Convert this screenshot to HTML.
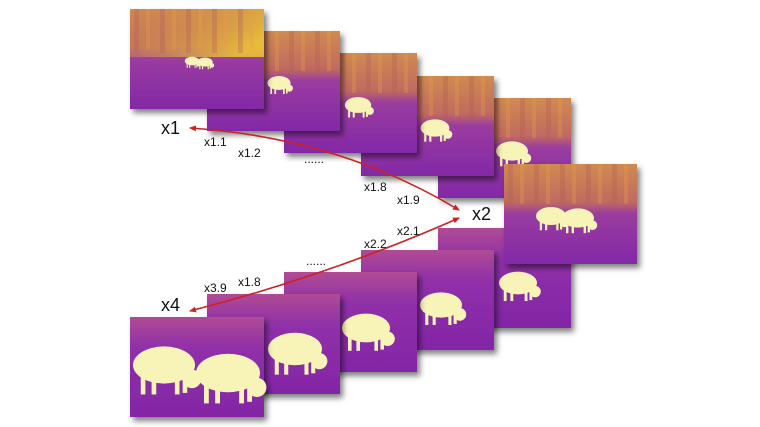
<!DOCTYPE html>
<html><head><meta charset="utf-8"><style>
html,body{margin:0;padding:0;background:#fff;width:760px;height:427px;overflow:hidden}
svg{display:block}
text{font-family:"Liberation Sans",sans-serif;fill:#111}
</style></head><body>
<svg width="760" height="427" viewBox="0 0 760 427" xmlns="http://www.w3.org/2000/svg">
<defs>
<linearGradient id="gt" x1="0" y1="0" x2="0" y2="1">
<stop offset="0" stop-color="#d08a50"/><stop offset="0.38" stop-color="#c06a60"/>
<stop offset="0.5" stop-color="#9a3ca0"/><stop offset="1" stop-color="#8228a6"/></linearGradient>
<linearGradient id="gt1" x1="0" y1="0" x2="1" y2="0.6">
<stop offset="0" stop-color="#c88050" stop-opacity="0"/><stop offset="1" stop-color="#f0d030"/></linearGradient>
<linearGradient id="gb" x1="0" y1="0" x2="0" y2="1">
<stop offset="0" stop-color="#b04c94"/><stop offset="0.3" stop-color="#9030a8"/><stop offset="1" stop-color="#8226a6"/></linearGradient>
<pattern id="tr" width="26" height="100" patternUnits="userSpaceOnUse">
<rect x="4" y="0" width="5" height="44" fill="#b05a58" opacity="0.3"/><rect x="16" y="0" width="4" height="40" fill="#e8a048" opacity="0.3"/></pattern>
<filter id="sh" x="-10%" y="-10%" width="130%" height="130%"><feDropShadow dx="3" dy="4" stdDeviation="3" flood-color="#000" flood-opacity="0.5"/></filter>
<symbol id="pig" overflow="visible">
<g fill="#f8f4b8"><ellipse cx="0" cy="0" rx="20" ry="12"/><ellipse cx="18" cy="9" rx="6" ry="6"/>
<rect x="-15" y="5" width="3" height="14"/><rect x="-8" y="5" width="3" height="14"/><rect x="7" y="5" width="3" height="14"/><rect x="12" y="5" width="3" height="13"/></g></symbol>
<marker id="ah" markerWidth="8" markerHeight="8" refX="6" refY="4" orient="auto-start-reverse" markerUnits="userSpaceOnUse"><path d="M0,1 L7,4 L0,7 z" fill="#d02020"/></marker>
</defs>

<g transform="translate(438,98)" filter="url(#sh)"><rect width="133" height="100" fill="url(#gt)"/><rect width="133" height="46" fill="url(#tr)"/>
<use href="#pig" transform="translate(74,53) scale(0.8)"/></g>
<g transform="translate(438,228)" filter="url(#sh)"><rect width="133" height="100" fill="url(#gb)"/>
<use href="#pig" transform="translate(80,55) scale(0.95)"/></g>
<g transform="translate(504,164)" filter="url(#sh)"><rect width="133" height="100" fill="url(#gt)"/><rect width="133" height="40" fill="url(#tr)"/>
<use href="#pig" transform="translate(47,52) scale(0.75)"/><use href="#pig" transform="translate(74,54) scale(0.8)"/></g>

<g transform="translate(361,76)" filter="url(#sh)"><rect width="133" height="100" fill="url(#gt)"/><rect width="133" height="46" fill="url(#tr)"/>
<use href="#pig" transform="translate(74,52) scale(0.72)"/></g>
<g transform="translate(284,53)" filter="url(#sh)"><rect width="133" height="100" fill="url(#gt)"/><rect width="133" height="46" fill="url(#tr)"/>
<use href="#pig" transform="translate(74,52) scale(0.66)"/></g>
<g transform="translate(207,31)" filter="url(#sh)"><rect width="133" height="100" fill="url(#gt)"/><rect width="133" height="46" fill="url(#tr)"/>
<use href="#pig" transform="translate(72,52) scale(0.58)"/></g>
<g transform="translate(130,9)" filter="url(#sh)"><rect width="134" height="100" fill="url(#gt)"/><rect width="134" height="48" fill="url(#gt1)" opacity="0.8"/><rect width="134" height="48" fill="url(#tr)"/>
<use href="#pig" transform="translate(62,52) scale(0.36)"/><use href="#pig" transform="translate(75,53) scale(0.38)"/></g>

<g transform="translate(361,250)" filter="url(#sh)"><rect width="133" height="100" fill="url(#gb)"/>
<use href="#pig" transform="translate(80,55) scale(1.05)"/></g>
<g transform="translate(284,272)" filter="url(#sh)"><rect width="133" height="100" fill="url(#gb)"/>
<use href="#pig" transform="translate(82,56) scale(1.2)"/></g>
<g transform="translate(207,294)" filter="url(#sh)"><rect width="133" height="100" fill="url(#gb)"/>
<use href="#pig" transform="translate(88,55) scale(1.35)"/></g>
<g transform="translate(130,317)" filter="url(#sh)"><rect width="134" height="100" fill="url(#gb)"/>
<use href="#pig" transform="translate(34,48) scale(1.55)"/><use href="#pig" transform="translate(98,56) scale(1.6)"/></g>

<path d="M190,128 Q340,138 459,210" fill="none" stroke="#d02020" stroke-width="1.6" marker-start="url(#ah)" marker-end="url(#ah)"/>
<path d="M459,218 Q330,275 190,311" fill="none" stroke="#d02020" stroke-width="1.6" marker-start="url(#ah)" marker-end="url(#ah)"/>

<text x="161" y="134" font-size="18">x1</text>
<text x="204" y="146" font-size="12">x1.1</text>
<text x="238" y="157" font-size="12">x1.2</text>
<text x="304" y="163" font-size="12">......</text>
<text x="364" y="191" font-size="12">x1.8</text>
<text x="397" y="204" font-size="12">x1.9</text>
<text x="472" y="220" font-size="18">x2</text>
<text x="397" y="235" font-size="12">x2.1</text>
<text x="364" y="248" font-size="12">x2.2</text>
<text x="306" y="265" font-size="12">......</text>
<text x="238" y="286" font-size="12">x1.8</text>
<text x="204" y="292" font-size="12">x3.9</text>
<text x="161" y="311" font-size="18">x4</text>
</svg>
</body></html>
